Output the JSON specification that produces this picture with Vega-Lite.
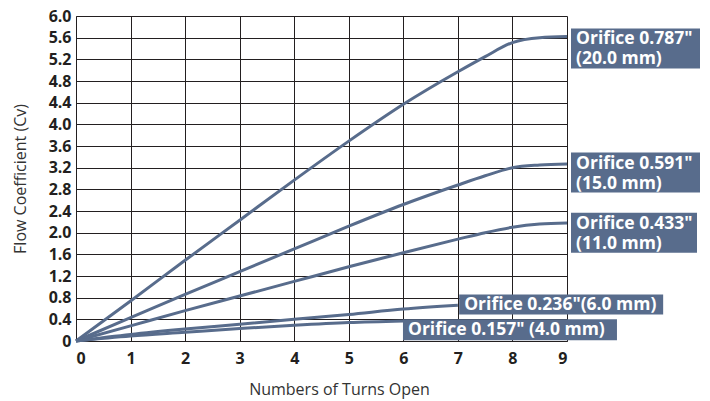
{
  "$schema": "https://vega.github.io/schema/vega-lite/v6.json",
  "width": 491,
  "height": 325,
  "autosize": {"type": "none"},
  "padding": {"left": 76, "top": 16, "right": 143, "bottom": 60},
  "background": "white",
  "config": {"view": {"stroke": null}, "font": "Open Sans"},
  "datasets": {
    "curves": [
      {"series": "0.787", "turns": 0, "cv": 0},
      {"series": "0.787", "turns": 1, "cv": 0.74},
      {"series": "0.787", "turns": 2, "cv": 1.49},
      {"series": "0.787", "turns": 3, "cv": 2.23},
      {"series": "0.787", "turns": 4, "cv": 2.97},
      {"series": "0.787", "turns": 5, "cv": 3.69},
      {"series": "0.787", "turns": 6, "cv": 4.37},
      {"series": "0.787", "turns": 7, "cv": 4.97},
      {"series": "0.787", "turns": 7.5, "cv": 5.25},
      {"series": "0.787", "turns": 8, "cv": 5.51},
      {"series": "0.787", "turns": 8.5, "cv": 5.6},
      {"series": "0.787", "turns": 9, "cv": 5.62},
      {"series": "0.591", "turns": 0, "cv": 0},
      {"series": "0.591", "turns": 1, "cv": 0.43},
      {"series": "0.591", "turns": 2, "cv": 0.86},
      {"series": "0.591", "turns": 3, "cv": 1.28},
      {"series": "0.591", "turns": 4, "cv": 1.7},
      {"series": "0.591", "turns": 5, "cv": 2.12},
      {"series": "0.591", "turns": 6, "cv": 2.52},
      {"series": "0.591", "turns": 7, "cv": 2.88},
      {"series": "0.591", "turns": 7.5, "cv": 3.05},
      {"series": "0.591", "turns": 8, "cv": 3.2},
      {"series": "0.591", "turns": 8.5, "cv": 3.25},
      {"series": "0.591", "turns": 9, "cv": 3.27},
      {"series": "0.433", "turns": 0, "cv": 0},
      {"series": "0.433", "turns": 1, "cv": 0.28},
      {"series": "0.433", "turns": 2, "cv": 0.56},
      {"series": "0.433", "turns": 3, "cv": 0.83},
      {"series": "0.433", "turns": 4, "cv": 1.1},
      {"series": "0.433", "turns": 5, "cv": 1.37},
      {"series": "0.433", "turns": 6, "cv": 1.63},
      {"series": "0.433", "turns": 7, "cv": 1.88},
      {"series": "0.433", "turns": 7.5, "cv": 2.0},
      {"series": "0.433", "turns": 8, "cv": 2.1},
      {"series": "0.433", "turns": 8.5, "cv": 2.16},
      {"series": "0.433", "turns": 9, "cv": 2.18},
      {"series": "0.236", "turns": 0, "cv": 0},
      {"series": "0.236", "turns": 1, "cv": 0.12},
      {"series": "0.236", "turns": 2, "cv": 0.22},
      {"series": "0.236", "turns": 3, "cv": 0.31},
      {"series": "0.236", "turns": 4, "cv": 0.4},
      {"series": "0.236", "turns": 5, "cv": 0.49},
      {"series": "0.236", "turns": 6, "cv": 0.59},
      {"series": "0.236", "turns": 7, "cv": 0.66},
      {"series": "0.157", "turns": 0, "cv": 0},
      {"series": "0.157", "turns": 1, "cv": 0.09},
      {"series": "0.157", "turns": 2, "cv": 0.16},
      {"series": "0.157", "turns": 3, "cv": 0.23},
      {"series": "0.157", "turns": 4, "cv": 0.29},
      {"series": "0.157", "turns": 5, "cv": 0.34},
      {"series": "0.157", "turns": 6, "cv": 0.37}
    ],
    "labels": [
      {"series": "0.787", "turns": 9, "cv": 5.77, "label": ["Orifice 0.787\"", "(20.0 mm)"]},
      {"series": "0.591", "turns": 9, "cv": 3.48, "label": ["Orifice 0.591\"", "(15.0 mm)"]},
      {"series": "0.433", "turns": 9, "cv": 2.37, "label": ["Orifice 0.433\"", "(11.0 mm)"]},
      {"series": "0.236", "turns": 6.95, "cv": 0.86, "label": ["Orifice 0.236\"(6.0 mm)"]},
      {"series": "0.157", "turns": 5.92, "cv": 0.4, "label": ["Orifice 0.157\" (4.0 mm)"]}
    ]
  },
  "encoding": {
    "x": {
      "field": "turns",
      "type": "quantitative",
      "scale": {"domain": [0, 9], "nice": false},
      "axis": {
        "title": "Numbers of Turns Open",
        "values": [0, 1, 2, 3, 4, 5, 6, 7, 8, 9],
        "grid": true,
        "gridColor": "#231f20",
        "gridWidth": 1,
        "gridOpacity": 1,
        "domainColor": "#231f20",
        "domainWidth": 1,
        "ticks": false,
        "labelPadding": 9,
        "labelFontSize": 16,
        "labelFontWeight": "bold",
        "labelColor": "#231f20",
        "labelFont": "Open Sans",
        "titleFont": "Open Sans",
        "titleFontSize": 16,
        "titleFontWeight": "normal",
        "titleColor": "#333333",
        "titleX": 263,
        "titleY": 53,
        "titleBaseline": "alphabetic"
      }
    },
    "y": {
      "field": "cv",
      "type": "quantitative",
      "scale": {"domain": [0, 6], "nice": false},
      "axis": {
        "title": "Flow Coefficient (Cv)",
        "values": [0, 0.4, 0.8, 1.2, 1.6, 2.0, 2.4, 2.8, 3.2, 3.6, 4.0, 4.4, 4.8, 5.2, 5.6, 6.0],
        "labelExpr": "datum.value == 0 ? '0' : format(datum.value, '.1f')",
        "grid": true,
        "gridColor": "#231f20",
        "gridWidth": 1,
        "gridOpacity": 1,
        "domainColor": "#231f20",
        "domainWidth": 1,
        "ticks": false,
        "labelPadding": 5,
        "labelFontSize": 16,
        "labelFontWeight": "bold",
        "labelColor": "#231f20",
        "labelFont": "Open Sans",
        "titleFont": "Open Sans",
        "titleFontSize": 16,
        "titleFontWeight": "normal",
        "titleColor": "#333333",
        "titleX": -56,
        "titleBaseline": "middle"
      }
    }
  },
  "layer": [
    {
      "data": {"name": "curves"},
      "mark": {"type": "line", "interpolate": "monotone", "strokeWidth": 3, "color": "#586c8c"},
      "encoding": {"detail": {"field": "series", "type": "nominal"}}
    },
    {
      "data": {"name": "labels"},
      "mark": {"type": "point", "filled": true, "size": 4, "opacity": 1, "strokeWidth": 0, "color": "#586c8c"},
      "encoding": {
        "shape": {
          "field": "series",
          "type": "nominal",
          "scale": {
            "domain": ["0.787", "0.591", "0.433", "0.236", "0.157"],
            "range": ["M4,0H133V40H4Z", "M4,0H133V40H4Z", "M4,0H130V40H4Z", "M4,0H208V20H4Z", "M4,0H218V21H4Z"]
          },
          "legend": null
        }
      }
    },
    {
      "data": {"name": "labels"},
      "mark": {"type": "text", "align": "left", "baseline": "top", "dx": 9, "dy": 2, "fontSize": 17.5, "fontWeight": "bold", "color": "white", "lineHeight": 20, "font": "Open Sans"},
      "encoding": {"text": {"field": "label", "type": "nominal"}}
    }
  ]
}
